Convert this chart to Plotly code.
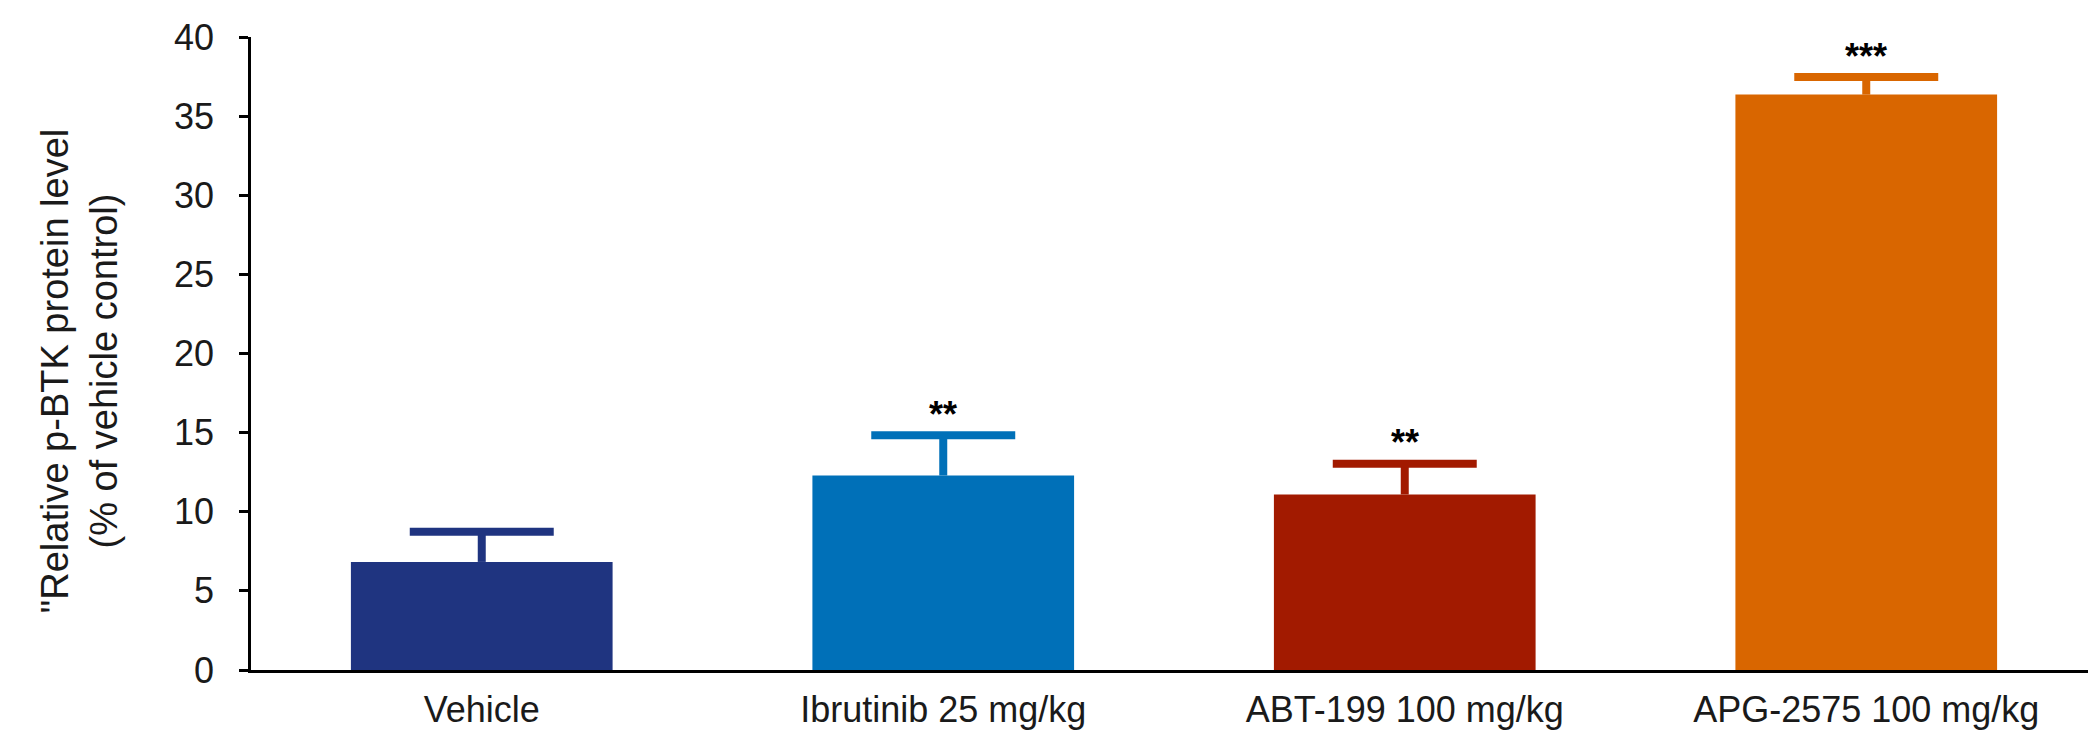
import plotly.graph_objects as go

categories = ["Vehicle", "Ibrutinib 25 mg/kg", "ABT-199 100 mg/kg", "APG-2575 100 mg/kg"]
values = [6.83, 12.29, 11.09, 36.36]
errors = [1.90, 2.55, 1.94, 1.11]
colors = ["#1F3480", "#0070B8", "#A21A00", "#D96600"]
stars = ["", "**", "**", "***"]
y_ticks = [0, 5, 10, 15, 20, 25, 30, 35, 40]

FONT = "Arial, Liberation Sans, Helvetica, sans-serif"
positions = list(range(len(categories)))
CAP = 0.156

fig = go.Figure()
fig.add_trace(go.Bar(
    x=positions, y=values, width=0.567,
    marker=dict(color=colors, line=dict(width=0)),
    showlegend=False, hoverinfo="skip",
))

# upper-only error bars (stem + cap) in each bar's colour
for p, v, e, col in zip(positions, values, errors, colors):
    fig.add_trace(go.Scatter(
        x=[p, p, None, p - CAP, p + CAP], y=[v, v + e, None, v + e, v + e],
        mode="lines", line=dict(color=col, width=8), showlegend=False, hoverinfo="skip",
    ))

for p, v, e, s in zip(positions, values, errors, stars):
    if s:
        fig.add_annotation(x=p, y=v + e, text="<b>" + s + "</b>", showarrow=False,
                           yanchor="middle", yshift=21,
                           font=dict(family=FONT, size=36, color="black"))

fig.add_annotation(xref="paper", yref="paper", x=0, y=0.472, xshift=-172,
                   text='"Relative p-BTK protein level<br>(% of vehicle control)',
                   textangle=-90, showarrow=False, xanchor="center", yanchor="middle",
                   font=dict(family=FONT, size=38, color="#1a1a1a"))

fig.update_layout(
    width=2096, height=731,
    margin=dict(l=243, r=7, t=29, b=69),
    paper_bgcolor="white", plot_bgcolor="white",
    font=dict(family=FONT, size=34, color="#1a1a1a"),
    xaxis=dict(range=[-0.5, 3.5], tickvals=positions, ticktext=categories,
               showline=True, linecolor="black", linewidth=3,
               ticks="", showgrid=False, zeroline=False,
               tickfont=dict(family=FONT, size=36, color="#1a1a1a"), ticklabelstandoff=6),
    yaxis=dict(range=[0, 40], tickvals=y_ticks, showline=True, linecolor="black", linewidth=2.5,
               ticks="outside", ticklen=9, tickwidth=2.5, tickcolor="black",
               showgrid=False, zeroline=False,
               tickfont=dict(family=FONT, size=36, color="#1a1a1a"), ticklabelstandoff=18),
)

fig.write_html("out.html")
